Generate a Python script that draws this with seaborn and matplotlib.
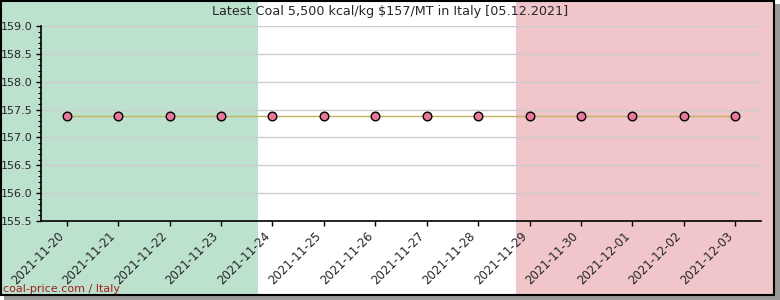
import seaborn as sns
import matplotlib.pyplot as plt
import matplotlib.patches as mpatches
from matplotlib.ticker import MultipleLocator
import pandas as pd

dates = pd.date_range("2021-11-20", "2021-12-03").strftime("%Y-%m-%d").tolist()
prices = [157.38] * len(dates)

title = "Latest Coal 5,500 kcal/kg $157/MT in Italy [05.12.2021]"
footer = "coal-price.com / Italy"

sns.set_style("ticks")
plt.rcParams['font.family'] = ['DejaVu Sans']

W, H = 780, 300
fig = plt.figure(figsize=(W / 100, H / 100), dpi=100)
fig.patch.set_facecolor("white")

# shadow
fig.add_artist(mpatches.Rectangle((4 / W, 0), 776 / W, 296 / H, transform=fig.transFigure,
                                  facecolor="#9a9a9a", edgecolor="none", zorder=-5))
# flag bands
bw = 774 / 3
for i, col in enumerate(["#bce2ce", "#ffffff", "#f0c6ca"]):
    fig.add_artist(mpatches.Rectangle((i * bw / W, 5 / H), bw / W, 295 / H, transform=fig.transFigure,
                                      facecolor=col, edgecolor="none", zorder=-4))
# border
fig.add_artist(mpatches.Rectangle((0.5 / W, 5.5 / H), 773.5 / W, 294 / H, transform=fig.transFigure,
                                  facecolor="none", edgecolor="black", linewidth=1.5, zorder=-3))

ax = fig.add_axes([41 / W, (H - 221) / H, 720 / W, 195 / H])
ax.patch.set_alpha(0)

df = pd.DataFrame({"date": range(len(dates)), "price": prices})
sns.lineplot(data=df, x="date", y="price", ax=ax, color="#c4b25a", linewidth=1,
             marker="o", markersize=6.2, markerfacecolor="#e8799c", markeredgecolor="black",
             markeredgewidth=1)

ax.set_xlim(-0.5, len(dates) - 0.5)
ax.set_ylim(155.5, 159.0)
ax.yaxis.set_major_locator(MultipleLocator(0.5))
ax.yaxis.set_minor_locator(MultipleLocator(0.1))
ax.set_xticks(range(len(dates)))
ax.set_xticklabels(dates, rotation=45, ha="right", fontsize=8.5)
ax.tick_params(axis="both", which="major", length=3.5, width=1, pad=2.5, color="black")
ax.tick_params(axis="y", which="minor", length=2.5, width=0.8, color="black")
ax.tick_params(axis="y", labelsize=8)
ax.yaxis.set_major_formatter(plt.FormatStrFormatter("%.1f"))
ax.grid(axis="y", color="#cccccc", linewidth=1)
ax.set_axisbelow(True)
ax.set_xlabel("")
ax.set_ylabel("")
sns.despine(ax=ax)
for s in ["left", "bottom"]:
    ax.spines[s].set_color("black")
    ax.spines[s].set_linewidth(1.2)

fig.text(0.5, 1 - 12 / H, title, ha="center", va="center", fontsize=9.2)
fig.text(3 / W, 1 - 289 / H, footer, ha="left", va="center", fontsize=8, color="#a31c1c")

fig.savefig("out.png", dpi=100)
